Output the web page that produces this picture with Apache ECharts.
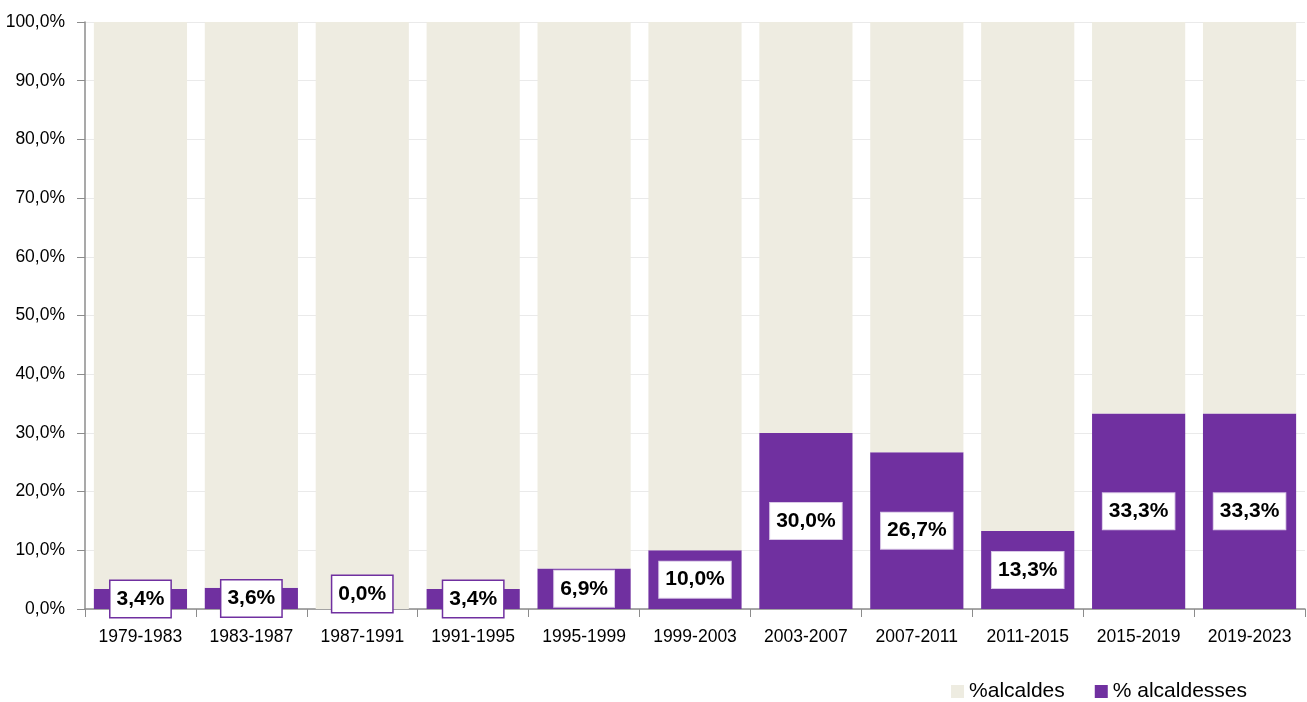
<!DOCTYPE html>
<html><head><meta charset="utf-8">
<script src="https://cdn.jsdelivr.net/npm/echarts@6/dist/echarts.min.js"></script>
<style>html,body{margin:0;padding:0;background:#fff}#c{width:1307px;height:702px}</style>
</head><body><div id="c"></div>
<script>
const categories = ['1979-1983','1983-1987','1987-1991','1991-1995','1995-1999','1999-2003','2003-2007','2007-2011','2011-2015','2015-2019','2019-2023'];
const alcaldesses = [3.4, 3.6, 0.0, 3.4, 6.9, 10.0, 30.0, 26.7, 13.3, 33.3, 33.3];
const alcaldes = [96.6, 96.4, 100.0, 96.6, 93.1, 90.0, 70.0, 73.3, 86.7, 66.7, 66.7];
const yTicks = { min: 0, max: 100, interval: 10 };

const FONT = '"Liberation Sans", Arial, sans-serif';
const fmt = v => v.toFixed(1).replace('.', ',') + '%';

const womenData = alcaldesses.map(v => {
  if (v === 0) {
    return { value: v, label: { offset: [0, -15], borderColor: '#7030a0', borderWidth: 1.5 } };
  }
  if (v < 5) {
    return { value: v, label: { borderColor: '#7030a0', borderWidth: 1.5 } };
  }
  return { value: v };
});

const chart = echarts.init(document.getElementById('c'), null, { renderer: 'canvas' });
chart.setOption({
  animation: false,
  backgroundColor: '#ffffff',
  grid: { left: 85, right: 2, top: 22, bottom: 93, containLabel: false },
  legend: {
    data: ['%alcaldes', '% alcaldesses'],
    right: 55, top: 676,
    itemWidth: 13, itemHeight: 13, itemGap: 30,
    icon: 'rect',
    textStyle: { fontFamily: FONT, fontSize: 21, color: '#000' }
  },
  xAxis: {
    type: 'category',
    data: categories,
    axisLine: { lineStyle: { color: '#8c8c8c', width: 1.5 } },
    axisTick: { show: true, length: 8, lineStyle: { color: '#8c8c8c' } },
    axisLabel: { fontFamily: FONT, fontSize: 17.5, color: '#000', margin: 19 }
  },
  yAxis: {
    type: 'value',
    min: yTicks.min, max: yTicks.max, interval: yTicks.interval,
    axisLine: { show: true, lineStyle: { color: '#8c8c8c', width: 1.5 } },
    axisTick: { show: true, length: 8, lineStyle: { color: '#8c8c8c' } },
    splitLine: { lineStyle: { color: '#eaeaea' } },
    axisLabel: { fontFamily: FONT, fontSize: 17.5, color: '#000', margin: 20, formatter: v => fmt(v) }
  },
  series: [
    {
      name: '% alcaldesses',
      type: 'bar',
      stack: 'total',
      data: womenData,
      barCategoryGap: '16%',
      itemStyle: { color: '#7030a0' },
      label: {
        show: true,
        position: 'inside',
        formatter: p => fmt(p.value),
        fontFamily: FONT,
        fontSize: 21,
        fontWeight: 'bold',
        color: '#000',
        backgroundColor: '#ffffff',
        borderColor: '#d9c8e6',
        borderWidth: 1,
        padding: [8, 6, 7, 6]
      }
    },
    {
      name: '%alcaldes',
      type: 'bar',
      stack: 'total',
      data: alcaldes,
      barCategoryGap: '16%',
      itemStyle: { color: '#eeece1' }
    }
  ]
});
</script></body></html>
